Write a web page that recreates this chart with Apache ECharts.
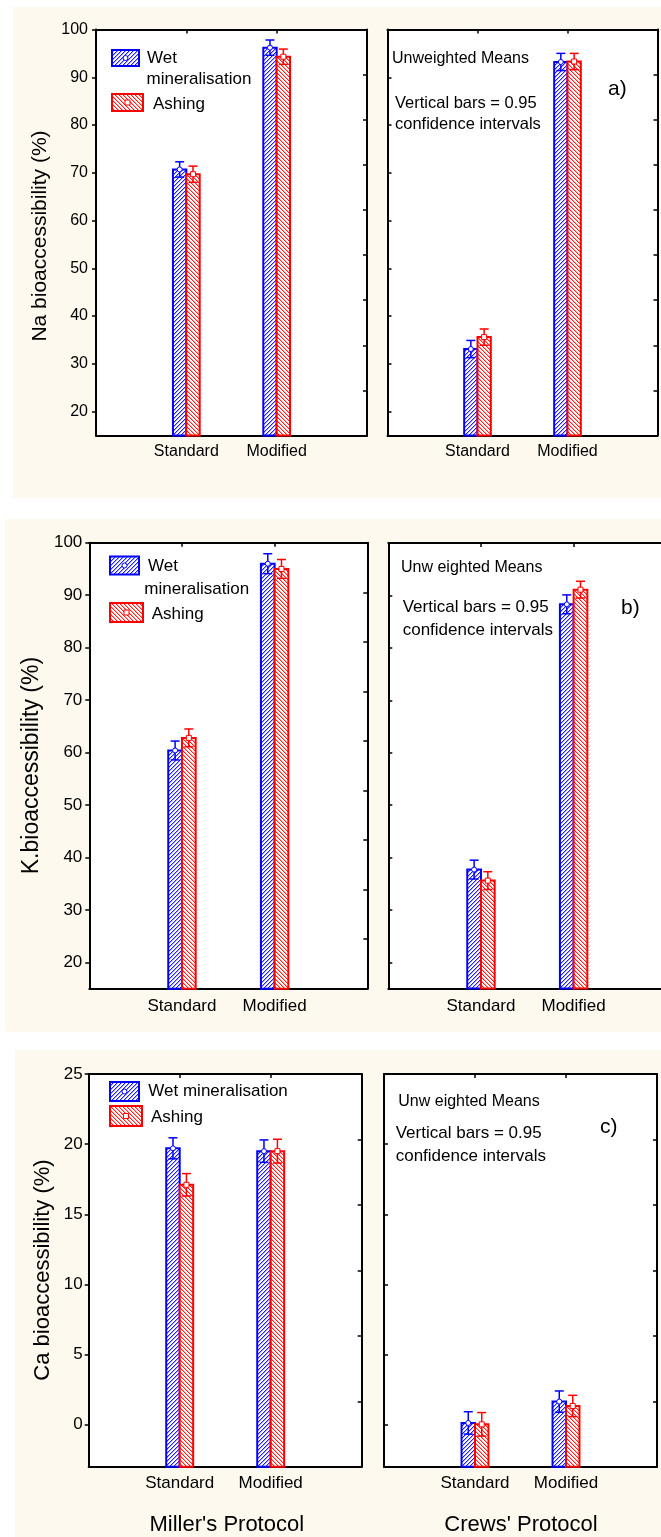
<!DOCTYPE html>
<html>
<head>
<meta charset="utf-8">
<script src="https://cdn.jsdelivr.net/npm/echarts@6/dist/echarts.min.js"></script>
<style>
html,body{margin:0;padding:0;background:#fff;}
#c{width:661px;height:1537px;}
</style>
</head>
<body>
<div id="c"></div>
<script>
// ---------------- DATA ----------------
const categories = ['Standard', 'Modified'];
const pctTicks = [20, 30, 40, 50, 60, 70, 80, 90, 100];
const caTicks = [0, 5, 10, 15, 20, 25];

// Na (a)
const naMillerWet = [70.7, 96.2];  const naMillerWetCI = [1.6, 1.6];
const naMillerAsh = [69.7, 94.3];  const naMillerAshCI = [1.7, 1.6];
const naCrewsWet  = [33.1, 93.2];  const naCrewsWetCI  = [1.8, 1.8];
const naCrewsAsh  = [35.6, 93.3];  const naCrewsAshCI  = [1.7, 1.7];
// K (b)
const kMillerWet = [60.4, 96.0];   const kMillerWetCI = [1.8, 1.9];
const kMillerAsh = [62.8, 95.0];   const kMillerAshCI = [1.7, 1.8];
const kCrewsWet  = [37.7, 88.3];   const kCrewsWetCI  = [1.8, 1.8];
const kCrewsAsh  = [35.6, 91.1];   const kCrewsAshCI  = [1.7, 1.6];
// Ca (c)
const caMillerWet = [19.7, 19.5];  const caMillerWetCI = [0.75, 0.8];
const caMillerAsh = [17.1, 19.5];  const caMillerAshCI = [0.8, 0.85];
const caCrewsWet  = [0.12, 1.64];  const caCrewsWetCI  = [0.8, 0.76];
const caCrewsAsh  = [0.02, 1.33];  const caCrewsAshCI  = [0.84, 0.76];

// ---------------- STYLE ----------------
const FONT = '"Liberation Sans", Arial, sans-serif';
const BLUE = '#0000ff', RED = '#ff0000';

function hatch(color, light, dir) {
  const c = document.createElement('canvas');
  c.width = 4; c.height = 4;
  const g = c.getContext('2d');
  g.fillStyle = '#ffffff'; g.fillRect(0, 0, 4, 4);
  for (let i = 0; i < 4; i++) {
    const y = dir === '/' ? 3 - i : i;
    g.fillStyle = color; g.fillRect(i, y, 1, 1);
    g.fillStyle = light; g.fillRect((i + 1) % 4, y, 1, 1);
  }
  return c;
}
const blueHatch = { image: hatch('#2020ff', '#a8a8ff', '/'), repeat: 'repeat' };
const redHatch = { image: hatch('#ff2020', '#ffa8a8', '\\'), repeat: 'repeat' };

// grids: [left, top, width, height]
const grids = [
  { box: [96, 29.5, 271, 406], min: 15, max: 100, ticks: pctTicks, parts: 9, left: true,
    wet: naMillerWet, wetCI: naMillerWetCI, ash: naMillerAsh, ashCI: naMillerAshCI, tickFs: 16, catFs: 16, labM: 8, catM: 8 },
  { box: [387.5, 29.5, 270, 406], min: 15, max: 100, ticks: pctTicks, parts: 9, left: false,
    wet: naCrewsWet, wetCI: naCrewsWetCI, ash: naCrewsAsh, ashCI: naCrewsAshCI, tickFs: 16, catFs: 16, labM: 8, catM: 8 },
  { box: [89.3, 542.7, 278, 446], min: 15, max: 100, ticks: pctTicks, parts: 9, left: true,
    wet: kMillerWet, wetCI: kMillerWetCI, ash: kMillerAsh, ashCI: kMillerAshCI, tickFs: 17, catFs: 17, labM: 7, catM: 9 },
  { box: [388.3, 543, 278, 445.6], min: 15, max: 100, ticks: pctTicks, parts: 9, left: false,
    wet: kCrewsWet, wetCI: kCrewsWetCI, ash: kCrewsAsh, ashCI: kCrewsAshCI, tickFs: 17, catFs: 17, labM: 7, catM: 9 },
  { box: [88.7, 1074, 273, 392.7], min: -3, max: 25, ticks: caTicks, parts: 6, left: true,
    wet: caMillerWet, wetCI: caMillerWetCI, ash: caMillerAsh, ashCI: caMillerAshCI, tickFs: 17, catFs: 17, labM: 6, catM: 8 },
  { box: [384, 1074, 273, 392.7], min: -3, max: 25, ticks: caTicks, parts: 6, left: false,
    wet: caCrewsWet, wetCI: caCrewsWetCI, ash: caCrewsAsh, ashCI: caCrewsAshCI, tickFs: 17, catFs: 17, labM: 6, catM: 8 }
];

const AX = { color: '#000', width: 2 };
const option = {
  animation: false,
  grid: [], xAxis: [], yAxis: [], series: [], graphic: []
};

grids.forEach((g, i) => {
  option.grid.push({ left: g.box[0], top: g.box[1], width: g.box[2], height: g.box[3],
    outerBoundsMode: 'none', containLabel: false,
    show: true, backgroundColor: '#ffffff', borderWidth: 0 });
  const xb = option.xAxis.length;
  option.xAxis.push({
    gridIndex: i, type: 'value', min: 0, max: 3, position: 'bottom',
    axisLine: { show: true, onZero: false, lineStyle: AX },
    axisTick: { show: false }, splitLine: { show: false },
    axisLabel: { customValues: [1, 2], formatter: v => categories[v - 1], margin: g.catM,
      fontSize: g.catFs, color: '#000', fontFamily: FONT }
  });
  option.xAxis.push({
    gridIndex: i, type: 'value', min: 0, max: 3, position: 'top',
    axisLine: { show: true, onZero: false, lineStyle: AX },
    axisTick: { show: true, inside: true, length: 4, customValues: [1, 2], lineStyle: { color: '#000', width: 1.5 } },
    axisLabel: { show: false }, splitLine: { show: false }
  });
  const yl = option.yAxis.length;
  option.yAxis.push({
    gridIndex: i, type: 'value', min: g.min, max: g.max, position: 'left',
    axisLine: { show: true, onZero: false, lineStyle: AX },
    axisTick: { show: true, inside: !g.left, length: 4, customValues: g.ticks, lineStyle: { color: '#000', width: 1.5 } },
    axisLabel: { show: g.left, customValues: g.ticks, margin: g.labM, fontSize: g.tickFs, color: '#000', fontFamily: FONT },
    splitLine: { show: false }
  });
  option.yAxis.push({
    gridIndex: i, type: 'value', min: 0, max: g.parts, interval: 1, position: 'right',
    axisLine: { show: true, onZero: false, lineStyle: AX },
    axisTick: { show: true, inside: true, length: 4, lineStyle: { color: '#000', width: 1.5 } },
    axisLabel: { show: false }, splitLine: { show: false }
  });

  [['wet', BLUE, blueHatch], ['ash', RED, redHatch]].forEach(([kind, color, pat]) => {
    const vals = g[kind], cis = g[kind + 'CI'];
    option.series.push({
      type: 'custom', xAxisIndex: xb, yAxisIndex: yl,
      encode: { x: 0, y: 1 },
      data: vals.map((v, k) => [k + 1, v, cis[k]]),
      renderItem: (params, api) => {
        const x = api.value(0), v = api.value(1), ci = api.value(2);
        const top = api.coord([x, v]);
        const base = api.coord([x, g.min]);
        const bw = api.size([1, 0])[0] * 0.148;
        const left = kind === 'wet' ? top[0] - bw : top[0];
        const cx = left + bw / 2;
        const hi = api.coord([x, v + ci])[1];
        const lo = api.coord([x, v - ci])[1];
        const ls = { stroke: color, lineWidth: 1.5 };
        const marker = kind === 'wet'
          ? { type: 'circle', shape: { cx: cx, cy: top[1], r: 2.5 }, style: { fill: '#fff', stroke: color, lineWidth: 1 } }
          : { type: 'rect', shape: { x: cx - 2.5, y: top[1] - 2.5, width: 5, height: 5 }, style: { fill: '#fff', stroke: color, lineWidth: 1 } };
        return { type: 'group', children: [
          { type: 'rect', shape: { x: left, y: top[1], width: bw, height: base[1] - top[1] },
            style: { fill: pat, stroke: color, lineWidth: 2 } },
          { type: 'line', shape: { x1: cx, y1: hi, x2: cx, y2: lo }, style: ls },
          { type: 'line', shape: { x1: cx - 4.5, y1: hi, x2: cx + 4.5, y2: hi }, style: ls },
          { type: 'line', shape: { x1: cx - 4.5, y1: lo, x2: cx + 4.5, y2: lo }, style: ls },
          marker
        ] };
      }
    });
  });
});

// ---------------- GRAPHICS (backgrounds, legend, annotations) ----------------
const CREAM = '#fdf9ee';
const G = option.graphic;
function bg(x, y, w, h) { G.push({ type: 'rect', z: -100, shape: { x, y, width: w, height: h }, style: { fill: CREAM } }); }
function txt(t, x, y, fs, align) {
  G.push({ type: 'text', z: 100, x, y,
    style: { text: t, fontSize: fs, fontFamily: FONT, fill: '#000', align: align || 'left', verticalAlign: 'middle' } });
}
function ytitle(t, x, y, fs) {
  G.push({ type: 'text', z: 100, x, y, rotation: Math.PI / 2,
    style: { text: t, fontSize: fs, fontFamily: FONT, fill: '#000', align: 'center', verticalAlign: 'middle' } });
}
function swatch(x, y, w, h, color, pat, kind) {
  G.push({ type: 'rect', z: 100, shape: { x, y, width: w, height: h }, style: { fill: pat, stroke: color, lineWidth: 2 } });
  const cx = x + w / 2, cy = y + h / 2;
  if (kind === 'wet') G.push({ type: 'circle', z: 101, shape: { cx, cy, r: 2.5 }, style: { fill: '#fff', stroke: color, lineWidth: 1 } });
  else G.push({ type: 'rect', z: 101, shape: { x: cx - 2.5, y: cy - 2.5, width: 5, height: 5 }, style: { fill: '#fff', stroke: color, lineWidth: 1 } });
}

bg(13, 7, 648, 491);
bg(5, 519.3, 656, 512.4);
bg(15, 1050, 646, 487);

// panel a
ytitle('Na bioaccessibility (%)', 40.7, 236, 21);
swatch(112, 50, 27, 16, BLUE, blueHatch, 'wet');
txt('Wet', 147, 58.7, 17);
txt('mineralisation', 146.5, 79.5, 17);
swatch(112, 94, 31, 17, RED, redHatch, 'ash');
txt('Ashing', 153, 104.5, 17);
txt('Unweighted Means', 392, 59, 16);
txt('Vertical bars = 0.95', 395, 103.5, 16.5);
txt('confidence intervals', 395, 124, 16.5);
txt('a)', 608, 89.5, 21);

// panel b
ytitle('K.bioaccessibility (%)', 32, 765.6, 23);
swatch(110, 556.5, 29, 18, BLUE, blueHatch, 'wet');
txt('Wet', 148, 566, 17);
txt('mineralisation', 144.3, 589, 17);
swatch(110, 603, 33, 19, RED, redHatch, 'ash');
txt('Ashing', 151.7, 614, 17);
txt('Unw eighted Means', 401, 567.7, 16);
txt('Vertical bars = 0.95', 402.7, 607.3, 17);
txt('confidence intervals', 402.7, 630, 17);
txt('b)', 621, 608, 21);

// panel c
ytitle('Ca bioaccessibility (%)', 43, 1270, 22);
swatch(110, 1082, 29, 19, BLUE, blueHatch, 'wet');
txt('Wet mineralisation', 148.3, 1091.7, 17);
swatch(110, 1106, 32, 20, RED, redHatch, 'ash');
txt('Ashing', 151, 1117.3, 17);
txt('Unw eighted Means', 398.3, 1101.7, 16);
txt('Vertical bars = 0.95', 395.7, 1133.3, 17);
txt('confidence intervals', 395.7, 1156, 17);
txt('c)', 600, 1127.3, 21);
txt("Miller's Protocol", 226.8, 1525, 22, 'center');
txt("Crews' Protocol", 521, 1525, 22, 'center');

const chart = echarts.init(document.getElementById('c'), null, { renderer: 'canvas' });
chart.setOption(option);
</script>
</body>
</html>
